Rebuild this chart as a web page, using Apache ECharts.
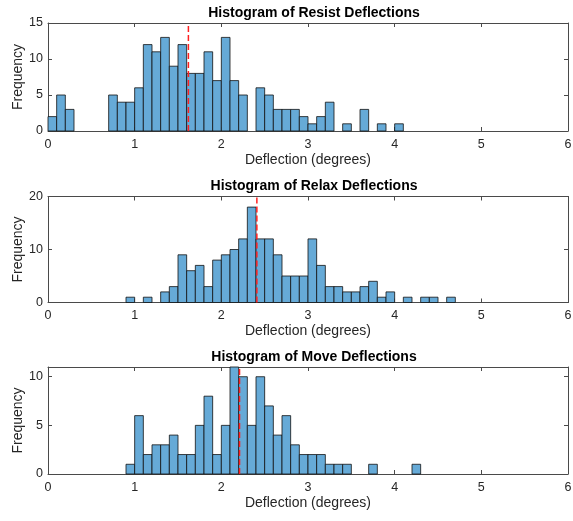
<!DOCTYPE html>
<html>
<head>
<meta charset="utf-8">
<script src="https://cdn.jsdelivr.net/npm/echarts@6/dist/echarts.min.js"></script>
<style>
html,body{margin:0;padding:0;background:#fff;}
#chart{width:573px;height:521px;}
</style>
</head>
<body>
<div id="chart"></div>
<script>
// ---- Data ----
const titles = ['Histogram of Resist Deflections', 'Histogram of Relax Deflections', 'Histogram of Move Deflections'];
const xTickLabels = ['0', '1', '2', '3', '4', '5', '6'];
const binWidth = 0.1;
// counts per 0.1-degree bin, starting at the given bin start
const resistStart = 0.0;
const resistCounts = [2, 5, 3, 0, 0, 0, 0, 5, 4, 4, 6, 12, 11, 13, 9, 12, 8, 8, 11, 7, 13, 7, 5, 0, 6, 5, 3, 3, 3, 2, 1, 2, 4, 0, 1, 0, 3, 0, 1, 0, 1];
const relaxStart = 0.9;
const relaxCounts = [1, 0, 1, 0, 2, 3, 9, 6, 7, 3, 8, 9, 10, 12, 18, 12, 12, 9, 5, 5, 5, 12, 7, 3, 3, 2, 2, 3, 4, 1, 2, 0, 1, 0, 1, 1, 0, 1];
const moveStart = 0.9;
const moveCounts = [1, 6, 2, 3, 3, 4, 2, 2, 5, 8, 2, 5, 11, 10, 5, 10, 7, 4, 6, 3, 2, 2, 2, 1, 1, 1, 0, 0, 1, 0, 0, 0, 0, 1];
const means = [1.62, 2.41, 2.21];
const yMax = [15, 20, 11];
const yInterval = [5, 10, 5];

const starts = [resistStart, relaxStart, moveStart];
const counts = [resistCounts, relaxCounts, moveCounts];

// ---- Layout ----
const grids = [
  {left: 48, right: 5, top: 23, height: 108, outerBoundsMode: 'none', containLabel: false},
  {left: 48, right: 5, top: 196.5, height: 106, outerBoundsMode: 'none', containLabel: false},
  {left: 48, right: 5, top: 367, height: 107, outerBoundsMode: 'none', containLabel: false}
];
const axisColor = '#4a4a4a';
const textColor = '#262626';
const font = 'Liberation Sans, Arial, Helvetica, sans-serif';

const xAxes = [], yAxes = [], series = [], titleOpts = [];
for (let i = 0; i < 3; i++) {
  titleOpts.push({
    text: titles[i],
    left: 309, textAlign: 'center',
    top: grids[i].top - 22,
    textStyle: {fontFamily: font, fontSize: 14, fontWeight: 'bold', color: '#000'}
  });
  xAxes.push({
    gridIndex: i, type: 'value', min: 0, max: 6, interval: 1, position: 'bottom',
    name: 'Deflection (degrees)', nameLocation: 'middle', nameGap: 22,
    nameTextStyle: {fontFamily: font, fontSize: 14, color: textColor},
    axisLine: {show: true, onZero: false, lineStyle: {color: axisColor, width: 1}},
    axisTick: {show: true, inside: true, length: 4, lineStyle: {color: axisColor}},
    axisLabel: {fontFamily: font, fontSize: 12.5, color: textColor, margin: 7,
      formatter: v => xTickLabels[Math.round(v)]},
    splitLine: {show: false}
  });
  xAxes.push({
    gridIndex: i, type: 'value', min: 0, max: 6, interval: 1, position: 'top',
    axisLine: {show: true, onZero: false, lineStyle: {color: axisColor, width: 1}},
    axisTick: {show: true, inside: true, length: 4, lineStyle: {color: axisColor}},
    axisLabel: {show: false}, splitLine: {show: false}
  });
  yAxes.push({
    gridIndex: i, type: 'value', min: 0, max: yMax[i], interval: yInterval[i], position: 'left',
    name: 'Frequency', nameLocation: 'middle', nameGap: 23, nameRotate: 90, nameMoveOverlap: false,
    nameTextStyle: {fontFamily: font, fontSize: 14, color: textColor},
    axisLine: {show: true, onZero: false, lineStyle: {color: axisColor, width: 1}},
    axisTick: {show: true, inside: true, length: 4, lineStyle: {color: axisColor}},
    axisLabel: {fontFamily: font, fontSize: 12.5, color: textColor, margin: 5, showMaxLabel: yMax[i] % yInterval[i] === 0},
    splitLine: {show: false}
  });
  yAxes.push({
    gridIndex: i, type: 'value', min: 0, max: yMax[i], interval: yInterval[i], position: 'right',
    axisLine: {show: true, onZero: false, lineStyle: {color: axisColor, width: 1}},
    axisTick: {show: true, inside: true, length: 4, lineStyle: {color: axisColor}},
    axisLabel: {show: false}, splitLine: {show: false}
  });

  const data = [];
  counts[i].forEach((c, k) => {
    if (c > 0) data.push([Math.round((starts[i] + k * binWidth) * 10) / 10, c]);
  });
  series.push({
    type: 'custom',
    xAxisIndex: 2 * i, yAxisIndex: 2 * i,
    data: data,
    encode: {x: 0, y: 1},
    renderItem: function (params, api) {
      const x0 = api.value(0), c = api.value(1);
      const p0 = api.coord([x0, 0]);
      const p1 = api.coord([x0 + binWidth, c]);
      return {
        type: 'rect',
        shape: {x: p0[0], y: p1[1], width: p1[0] - p0[0], height: p0[1] - p1[1]},
        style: {fill: '#66aad7', stroke: '#111', lineWidth: 0.8}
      };
    },
    z: 2
  });
  series.push({
    type: 'line',
    xAxisIndex: 2 * i, yAxisIndex: 2 * i,
    data: [[means[i], 0], [means[i], yMax[i]]],
    symbol: 'none',
    lineStyle: {color: '#ff2020', width: 1.5, type: [6, 3]},
    z: 5, silent: true
  });
}

const chart = echarts.init(document.getElementById('chart'), null, {renderer: 'canvas'});
chart.setOption({
  animation: false,
  backgroundColor: '#fff',
  title: titleOpts,
  grid: grids,
  xAxis: xAxes,
  yAxis: yAxes,
  series: series
});
</script>
</body>
</html>
